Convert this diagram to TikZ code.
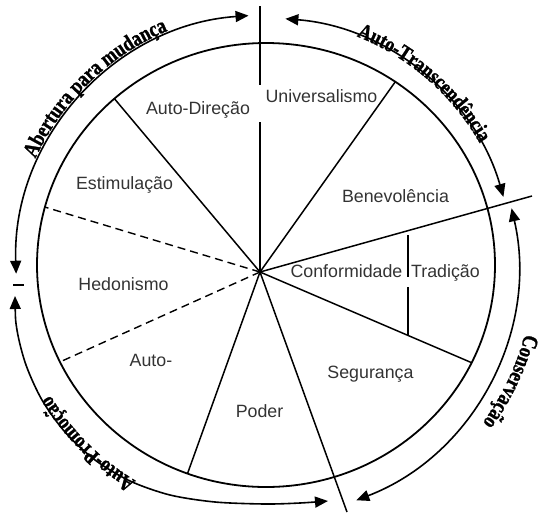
\documentclass[tikz,border=0pt]{standalone}
\usepackage{fontspec}
\setmainfont{Liberation Serif}
\newfontfamily\labelfont{Liberation Sans}
\newfontfamily\arcfamily[UprightFont={* Bold}, FakeStretch=0.82, FakeBold=1.2]{Liberation Serif}
\usetikzlibrary{arrows.meta,decorations.text}
\definecolor{labelgray}{HTML}{333333}
\newcommand\arcfont{\arcfamily\fontsize{22}{24}\selectfont}
\begin{document}
\begin{tikzpicture}[x=1pt,y=-1pt,
  ringline/.style={line width=1.8pt},
  spoke/.style={line width=1.5pt},
  dspoke/.style={line width=1.4pt, dash pattern=on 8pt off 5pt},
  cycarrow/.style={line width=1.6pt, {Triangle[length=13pt,width=11pt]}-{Triangle[length=13pt,width=11pt]}},
  lbl/.style={font=\labelfont\fontsize{17.8}{20}\selectfont, text=labelgray, inner sep=0pt, anchor=base},
  curvedtext/.style={decorate, decoration={text along path, text align=center, text={#1}}}]
\useasboundingbox (0,0) rectangle (544,515);
\coordinate (hub) at (260,272);
\coordinate (ic) at (266,265);

% inner wheel
\draw[ringline] (ic) ellipse [x radius=229, y radius=222];
\begin{scope}
  \clip (ic) ellipse [x radius=229, y radius=222];
  \draw[spoke] (hub) -- ++(-294,-350);
  \draw[dspoke] (hub) -- ++(-424,-128);
  \draw[dspoke] (hub) -- ++(-396,178);
  \draw[spoke] (hub) -- ++(-146,406);
  \draw[spoke] (hub) -- ++(420,180);
  \draw[spoke] (hub) -- ++(266,-374);
\end{scope}
\coordinate (topend) at (260,6);
\coordinate (topgapA) at (260,85);
\coordinate (topgapB) at (260,122);
\coordinate (botend) at (347,512);
\coordinate (rightend) at (532,196);
\draw[spoke] (topend) -- (topgapA);
\draw[spoke] (topgapB) -- (hub);
\draw[spoke] (hub) -- (botend);
\draw[spoke] (hub) -- (rightend);
% Conformidade / Tradicao divider
\coordinate (ctA) at (408,235);
\coordinate (ctB) at (408,277);
\coordinate (ctC) at (408,287);
\coordinate (ctD) at (408,335);
\draw[spoke] (ctA) -- (ctB);
\draw[spoke] (ctC) -- (ctD);

% outer cycle arrows
\draw[cycarrow] (ic) ++(178:250) arc[start angle=178, end angle=266, radius=250];
\draw[cycarrow] (ic) ++(274.5:247) arc[start angle=274.5, end angle=344, radius=247];
\draw[cycarrow] (ic) ++(347:252) arc[start angle=347, end angle=429, radius=252];
\draw[cycarrow] plot[smooth] coordinates {(15,296) (17,330) (26,365) (42,400) (65,432) (95,460) (130,481) (170,495) (215,502) (265,504) (300,503) (328,501)};
\coordinate (dashA) at (13,285);
\coordinate (dashB) at (24,285);
\draw[line width=1.3pt] (dashA) -- (dashB);

% curved titles
\path[curvedtext={|\arcfont|Abertura para mudança}] (ic) ++(196:254) arc[start angle=196, end angle=256, radius=254];
\path[curvedtext={|\arcfont|Auto-Transcendência}] (ic) ++(281:246) arc[start angle=281, end angle=341, radius=246];
\path[curvedtext={|\arcfont|Conservação}] (ic) ++(-5:268) arc[start angle=-5, end angle=56, radius=268];
\path[curvedtext={|\arcfont|Auto-Promoção}] (ic) ++(105:252) arc[start angle=105, end angle=165, radius=252];

% value labels
\node[lbl] (autodir) at (198,114) {Auto-Direção};
\node[lbl] (univ) at (321.5,102) {Universalismo};
\node[lbl] (estim) at (124.5,189) {Estimulação};
\node[lbl] (benev) at (395.5,202) {Benevolência};
\node[lbl] (hedon) at (123.5,290) {Hedonismo};
\node[lbl] (conf) at (346.5,277) {Conformidade};
\node[lbl] (trad) at (445.5,277) {Tradição};
\node[lbl] (autop) at (151,366) {Auto-};
\node[lbl] (poder) at (259.5,417) {Poder};
\node[lbl] (segur) at (370.5,378) {Segurança};
\end{tikzpicture}
\end{document}
